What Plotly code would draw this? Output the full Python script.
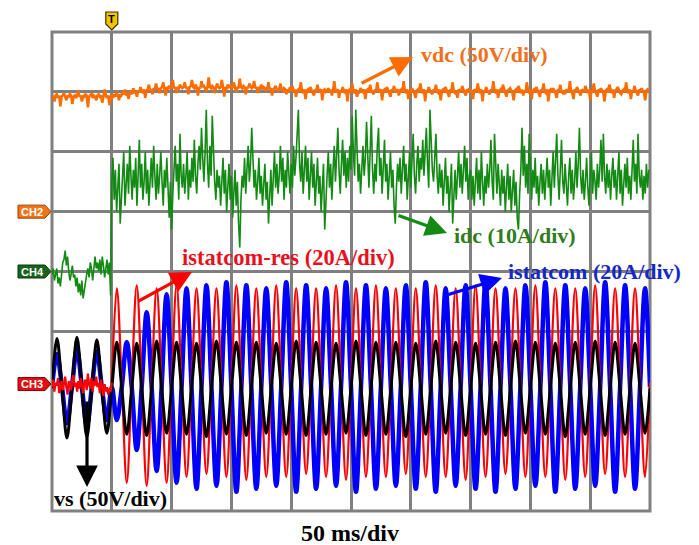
import plotly.graph_objects as go

# ---------------------------------------------------------------- timebase
MS_PER_DIV = 50          # horizontal: 50 ms/div, 10 divisions
N_XDIV = 10
N_YDIV = 8
DT_MS = 1.0              # sample spacing of the dc traces and pre-trigger noise
LINE_HZ = 60.0
TRIG_CYCLE = 3           # first ac cycle after the trigger (t = 50 ms)

# channel reference levels (divisions above the bottom) and scales (unit/div)
REF_VDC, SCALE_VDC = 5.0, 50.0      # CH2  vdc   50 V/div
REF_IDC, SCALE_IDC = 4.0, 10.0      # CH4  idc   10 A/div
REF_AC = 2.12                        # CH3  ac quantities
SCALE_IRES, SCALE_IST, SCALE_VS = 20.0, 20.0, 50.0

# ---------------------------------------------------------------- data
# vdc [V], one sample per ms from t = 0
vdc_v = [
    # 0-49 ms
    97, 96, 92, 97, 98, 95, 97, 88, 96, 97, 99, 96, 93, 97, 96, 98, 97, 90, 96, 97,
    95, 97, 101, 96, 97, 92, 97, 96, 98, 97, 87, 96, 97, 99, 95, 97, 96, 93, 97, 98,
    96, 97, 91, 96, 102, 97, 95, 97, 89, 96,
    # 50-109 ms
    97, 95, 98, 96, 100, 97, 93, 98, 97, 99, 98, 102, 97, 99, 94, 99, 100, 98, 103, 99,
    100, 96, 101, 100, 104, 101, 99, 102, 95, 101, 102, 106, 101, 102, 98, 103, 102, 107, 102, 103,
    99, 103, 104, 108, 103, 97, 104, 103, 105, 103, 104, 110, 103, 104, 99, 104, 103, 106, 104, 103,
    # 110-199 ms
    104, 108, 103, 104, 98, 104, 105, 110, 104, 103, 106, 104, 97, 104, 103, 109, 104, 105, 103, 100,
    104, 112, 104, 103, 105, 104, 99, 104, 107, 104, 103, 104, 110, 104, 96, 104, 103, 106, 104, 105,
    103, 104, 108, 104, 100, 104, 103, 111, 104, 103, 105, 104, 98, 104, 103, 107, 104, 103, 104, 109,
    103, 104, 99, 104, 103, 106, 102, 104, 103, 101, 103, 108, 102, 103, 97, 102, 103, 105, 102, 101,
    102, 107, 102, 101, 103, 102, 98, 102, 101, 104,
    # 200-499 ms
    101, 105, 100, 102, 96, 101, 102, 100, 108, 101, 99, 102, 94, 101, 102, 100, 104, 101, 99, 97,
    102, 101, 106, 100, 101, 102, 93, 101, 102, 100,
    101, 103, 100, 102, 97, 101, 109, 100, 101, 102, 95, 101, 100, 104, 101, 99, 102, 92, 101, 102,
    100, 107, 101, 99, 102, 96, 101, 100, 103, 101,
    100, 102, 94, 101, 102, 100, 106, 101, 99, 98, 102, 101, 108, 100, 101, 102, 93, 101, 102, 100,
    104, 101, 99, 96, 102, 101, 105, 100, 101, 102,
    97, 101, 102, 100, 109, 101, 99, 102, 94, 101, 100, 103, 101, 99, 95, 101, 102, 100, 107, 101,
    99, 102, 92, 101, 100, 104, 101, 99, 98, 102,
    101, 106, 100, 99, 102, 93, 101, 102, 100, 104, 101, 99, 96, 102, 101, 108, 100, 99, 101, 95,
    102, 101, 100, 105, 101, 99, 97, 102, 101, 103,
    101, 100, 94, 102, 101, 100, 107, 101, 99, 102, 92, 101, 100, 104, 101, 99, 98, 102, 101, 109,
    101, 99, 102, 95, 101, 102, 100, 106, 101, 99,
    96, 101, 102, 103, 101, 99, 93, 101, 102, 100, 105, 101, 99, 102, 97, 101, 100, 108, 101, 99,
    102, 94, 101, 102, 100, 104, 101, 99, 96, 102,
    101, 107, 100, 99, 102, 92, 101, 102, 100, 103, 101, 99, 95, 102, 101, 106, 100, 99, 101, 98,
    102, 101, 100, 109, 101, 99, 94, 102, 101, 104,
    101, 99, 97, 102, 101, 100, 105, 101, 99, 102, 93, 101, 100, 107, 101, 99, 96, 102, 101, 103,
    101, 99, 92, 101, 102, 100, 106, 101, 99, 102,
    95, 101, 102, 104, 101, 99, 98, 101, 102, 100, 108, 101, 99, 102, 94, 101, 100, 105, 101, 99,
    97, 102, 101, 103, 101, 99, 93, 101, 102, 100,
]

# idc [A], one sample per ms from t = 0
idc_a = [
    # 0-49 ms
    -0.5, 0.5, -1.5, -0.5, 0.5, -2.0, -1.0, -2.5, -0.5, 1.5, 2.0, 3.5, 1.0, 2.5, 0.0, -1.5,
    -0.5, 1.0, -1.0, -0.5, -2.5, -1.0, -3.5, -2.0, -4.0, -1.5, -4.5, -3.0, -2.0, -0.5, 0.5,
    -1.0, 1.5, 0.5, -1.5, 1.0, 2.5, 0.5, 1.5, 0.0, 2.0, -0.5, 2.5, 1.0, -1.0, 0.5, 2.0,
    -0.5, 1.5, -4.0,
    # 50-499 ms
    15, 19, 12, 17, 10, 14, 18, 8, 13, 16, 20, 11, 15, 18, 13, 21, 16, 12, 17, 14, 19, 11, 16, 22, 14, 18, 12, 15, 20, 13,
    17, 11, 15, 19, 14, 21, 16, 12, 18, 13, 16, 20, 15, 11, 17, 14, 19, 12, 9, 15, 7, 13, 17, 21, 15, 18, 12, 23, 16, 14,
    18, 13, 16, 20, 12, 17, 14, 19, 15, 22, 16, 13, 18, 21, 17, 24, 19, 15, 20, 27, 18, 14, 21, 16, 26, 19, 15, 12, 17, 14,
    16, 11, 15, 19, 13, 17, 10, 14, 18, 12, 16, 9, 13, 17, 11, 15, 8, 4, 12, 16, 14, 19, 13, 17, 21, 15, 18, 24, 19, 14,
    17, 12, 15, 19, 13, 16, 11, 14, 18, 12, 15, 8, 13, 17, 11, 16, 20, 14, 18, 13, 16, 21, 15, 19, 12, 17, 14, 20, 16, 13,
    18, 14, 21, 16, 19, 23, 27, 18, 15, 20, 13, 17, 21, 15, 19, 12, 16, 20, 14, 18, 11, 15, 19, 13, 16, 10, 14, 18, 7, 13,
    16, 20, 14, 18, 12, 17, 21, 15, 19, 24, 17, 13, 18, 22, 16, 20, 14, 19, 15, 21, 17, 26, 20, 16, 27, 19, 15, 18, 13, 17,
    21, 16, 19, 25, 18, 14, 20, 26, 17, 13, 18, 15, 21, 24, 16, 19, 13, 17, 22, 15, 18, 12, 16, 20, 14, 17, 11, 8, 14, 18,
    15, 19, 13, 17, 21, 15, 18, 12, 16, 20, 14, 19, 23, 16, 13, 18, 21, 15, 19, 17, 22, 16, 20, 24, 18, 14, 27, 21, 17, 15,
    19, 23, 16, 13, 18, 14, 17, 11, 15, 19, 13, 16, 10, 14, 18, 8, 13, 17, 12, 16, 20, 14, 18, 13, 17, 21, 15, 19, 12, 16,
    17, 12, 16, 11, 15, 19, 13, 17, 12, 20, 15, 11, 16, 13, 18, 14, 17, 22, 15, 12, 23, 16, 13, 18, 14, 11, 17, 13, 16, 10,
    14, 18, 12, 16, 10, 13, 17, 11, 15, 9, 7, 13, 17, 24, 16, 21, 14, 18, 13, 23, 16, 12, 17, 14, 19, 13, 16, 11, 15, 18,
    13, 17, 12, 15, 19, 14, 17, 11, 16, 20, 14, 18, 23, 16, 12, 17, 22, 15, 13, 18, 14, 11, 16, 19, 13, 17, 12, 15, 20, 14,
    18, 24, 16, 13, 17, 12, 15, 19, 14, 11, 16, 20, 13, 17, 15, 12, 18, 14, 17, 22, 15, 23, 16, 13, 18, 14, 17, 12, 16, 19,
    14, 17, 12, 16, 20, 13, 17, 11, 15, 18, 14, 19, 13, 16, 12, 17, 22, 15, 18, 13, 23, 16, 14, 17, 12, 16, 13, 18, 14, 17,
]

# istatcom-res [A] before the trigger, one sample per ms
ires_pre_a = [
    -1.0, 1.5, -2.5, 0.5, -0.5, 2.0, -3.0, -1.5, 1.0, -2.0, 0.0, 2.5, -1.0, -3.5, 1.0, -0.5,
    -2.0, 1.5, 3.0, -1.0, 0.5, -2.5, 1.0, -1.5, 2.0, -0.5, -3.0, 0.5, 1.5, -2.0, 3.5, 0.0,
    -1.5, 2.0, -2.5, 1.0, -0.5, 2.5, -1.0, 0.5, -3.0, 1.5, -2.0, -4.0, 0.0, -2.5, -1.0,
    -3.5, -1.5, -2.5,
]
# per-cycle extremes of the 60 Hz waves: first and second half-cycle
ires_first_a = [32, 33, 32, 33, 32, 32, 33, 32, 33, 32, 32, 33, 32, 33, 32, 32, 33, 32,
                33, 32, 32, 33, 32, 32, 33, 32, 32]
ires_second_a = [-33, -34, -33, -31, -30, -31, -32, -31, -31, -30, -31, -32, -31, -31,
                 -30, -31, -31, -32, -31, -30, -31, -31, -32, -31, -30, -31, -31]
ires_mid_a = 0.5

ist_first_a = [10, 12, 11,
               -12, -22, -29, -33, -35, -34, -36, -35, -34, -36, -35, -34, -36, -35,
               -34, -35, -36, -34, -35, -36, -35, -34, -36, -35, -34, -36, -35]
ist_second_a = [-13, -14, -12,
                14, 24, 30, 32, 33, 34, 33, 32, 34, 33, 32, 34, 33, 32, 33, 34, 32,
                33, 34, 32, 33, 34, 33, 32, 34, 33, 32]
ist_mid_a = -1.0

vs_first_v = [38, 39, 37,
              35, 34, 36, 35, 34, 36, 35, 35, 34, 36, 35, 34, 36, 35, 35, 34, 36,
              35, 34, 35, 36, 35, 34, 35, 36, 35, 34]
vs_second_v = [-45, -44, -41,
               -42, -43, -41, -42, -44, -42, -43, -41, -42, -43, -42, -41, -43, -42,
               -44, -42, -41, -43, -42, -43, -41, -42, -44, -42, -43, -42, -41]
vs_mid_v = -3.5

# ---------------------------------------------------------------- helpers
PERIOD_MS = 1000.0 / LINE_HZ
Q_MS = PERIOD_MS / 4.0


def cycles(first, second, mid, start_cycle):
    """Time/value samples at every quarter cycle from per-cycle extremes."""
    t, y = [], []
    j = start_cycle
    for j, (a, b) in enumerate(zip(first, second), start=start_cycle):
        base = j * PERIOD_MS
        t += [base, base + Q_MS, base + 2 * Q_MS, base + 3 * Q_MS]
        y += [mid, a, mid, b]
    t.append((j + 1) * PERIOD_MS)
    y.append(mid)
    return t, y


def to_div(values, ref, scale):
    return [ref + v / scale for v in values]


# screen frame of the graticule (pixels) for placing decorations
L, R, TOP, BOT = 52, 650, 32, 511
W, H = 699, 545


def xp(px):
    return (px - L) / (R - L)


def yp(py):
    return (BOT - py) / (BOT - TOP)


def xd(px):
    return xp(px) * N_XDIV * MS_PER_DIV


def yd(py):
    return yp(py) * N_YDIV


# ---------------------------------------------------------------- traces
fig = go.Figure()

t_vdc = [i * DT_MS for i in range(len(vdc_v))]
fig.add_trace(go.Scatter(x=t_vdc, y=to_div(vdc_v, REF_VDC, SCALE_VDC), mode="lines",
                         line=dict(color="#ff6d00", width=2.6), name="vdc"))

t_idc = [i * DT_MS for i in range(len(idc_a))]
fig.add_trace(go.Scatter(x=t_idc, y=to_div(idc_a, REF_IDC, SCALE_IDC), mode="lines",
                         line=dict(color="#138a13", width=1.6), name="idc"))

t_ist, y_ist = cycles(ist_first_a, ist_second_a, ist_mid_a, 0)
fig.add_trace(go.Scatter(x=t_ist, y=to_div(y_ist, REF_AC, SCALE_IST), mode="lines",
                         line=dict(color="#0000ff", width=4.5, shape="spline"),
                         name="istatcom"))

t_res, y_res = cycles(ires_first_a, ires_second_a, ires_mid_a, TRIG_CYCLE)
fig.add_trace(go.Scatter(x=t_res, y=to_div(y_res, REF_AC, SCALE_IRES), mode="lines",
                         line=dict(color="#ff0000", width=2.2, shape="spline"),
                         name="istatcom-res"))

t_vs, y_vs = cycles(vs_first_v, vs_second_v, vs_mid_v, 0)
fig.add_trace(go.Scatter(x=t_vs, y=to_div(y_vs, REF_AC, SCALE_VS), mode="lines",
                         line=dict(color="#000000", width=3, shape="spline"), name="vs"))

t_pre = [i * DT_MS for i in range(len(ires_pre_a))] + [t_res[0]]
fig.add_trace(go.Scatter(x=t_pre, y=to_div(ires_pre_a + [y_res[0]], REF_AC, SCALE_IRES),
                         mode="lines", line=dict(color="#ff0000", width=2.2),
                         name="istatcom-res pre"))

# ---------------------------------------------------------------- graticule
GRID = "#808080"
shapes = [dict(type="rect", xref="paper", yref="paper", x0=0, x1=1, y0=0, y1=1,
               line=dict(color=GRID, width=3), layer="below")]


def channel_tag(py, fill, edge):
    path = (f"M {xp(18)},{yp(py - 6.5)} L {xp(45)},{yp(py - 6.5)} L {xp(51)},{yp(py)} "
            f"L {xp(45)},{yp(py + 6.5)} L {xp(18)},{yp(py + 6.5)} Z")
    return dict(type="path", xref="paper", yref="paper", path=path,
                fillcolor=fill, line=dict(color=edge, width=1))


def py_of(ref):
    return BOT - ref / N_YDIV * (BOT - TOP)


tags = [("CH2", REF_VDC, "#f07418", "#a04000"),
        ("CH4", REF_IDC, "#17641a", "#0b3a0d"),
        ("CH3", REF_AC, "#e01010", "#800000")]
annotations = []
for label, ref, fill, edge in tags:
    py = py_of(ref)
    shapes.append(channel_tag(py, fill, edge))
    annotations.append(dict(x=xp(32), y=yp(py), xref="paper", yref="paper", text=f"<b>{label}</b>",
                            showarrow=False, xanchor="center", yanchor="middle",
                            font=dict(family="Liberation Sans", size=11, color="white")))

# trigger marker
trig_x = L + (R - L) / N_XDIV
shapes.append(dict(type="path", xref="paper", yref="paper",
                   path=(f"M {xp(trig_x - 6)},{yp(12)} L {xp(trig_x + 6)},{yp(12)} "
                         f"L {xp(trig_x + 6)},{yp(24)} L {xp(trig_x)},{yp(30)} "
                         f"L {xp(trig_x - 6)},{yp(24)} Z"),
                   fillcolor="#f4c300", line=dict(color="#3a3000", width=1.2)))
annotations.append(dict(x=xp(trig_x), y=yp(19.5), xref="paper", yref="paper", text="<b>T</b>",
                        showarrow=False, xanchor="center", yanchor="middle",
                        font=dict(family="Liberation Sans", size=11, color="black")))

# ---------------------------------------------------------------- labels and arrows
SERIF = "Liberation Serif"
labels = [
    ("vdc (50V/div)", 484, 55, "#f07020", 22),
    ("idc (10A/div)", 515, 235, "#2e7d1e", 22),
    ("istatcom-res (20A/div)", 288, 257, "#e8101c", 22.5),
    ("istatcom (20A/div)", 594, 271, "#1428c8", 22),
    ("vs (50V/div)", 110, 498, "#000000", 22),
    ("50 ms/div", 350, 533, "#000000", 24),
]
for text, cx, cy, col, size in labels:
    annotations.append(dict(x=xp(cx), y=yp(cy), xref="paper", yref="paper",
                            text=f"<b>{text}</b>", showarrow=False,
                            xanchor="center", yanchor="middle",
                            font=dict(family=SERIF, size=size, color=col)))

arrows = [
    ((360, 84), (413, 57), "#ff6d00"),
    ((397, 215), (447, 233), "#138a13"),
    ((137, 302), (192, 272), "#ff0000"),
    ((447, 295), (502, 278), "#0000ff"),
    ((87, 400), (87, 487), "#000000"),
]
for (tx, ty), (hx, hy), col in arrows:
    annotations.append(dict(x=xd(hx), y=yd(hy), ax=xd(tx), ay=yd(ty),
                            xref="x", yref="y", axref="x", ayref="y", text="",
                            showarrow=True, arrowhead=2, arrowsize=1.35,
                            arrowwidth=3.2, arrowcolor=col))

# ---------------------------------------------------------------- layout
fig.update_layout(
    width=W, height=H,
    margin=dict(l=L, r=W - R, t=TOP, b=H - BOT),
    paper_bgcolor="white", plot_bgcolor="white",
    showlegend=False,
    shapes=shapes, annotations=annotations,
    xaxis=dict(range=[0, N_XDIV * MS_PER_DIV], tickvals=[MS_PER_DIV * k for k in range(1, N_XDIV)],
               showticklabels=False, ticks="", showgrid=True, gridcolor=GRID, gridwidth=3,
               zeroline=False, showline=False, fixedrange=True),
    yaxis=dict(range=[0, N_YDIV], tickvals=[3, 4, 5, 6, 7],
               showticklabels=False, ticks="", showgrid=True, gridcolor=GRID, gridwidth=3,
               zeroline=False, showline=False, fixedrange=True),
)

fig.write_html("out.html")
